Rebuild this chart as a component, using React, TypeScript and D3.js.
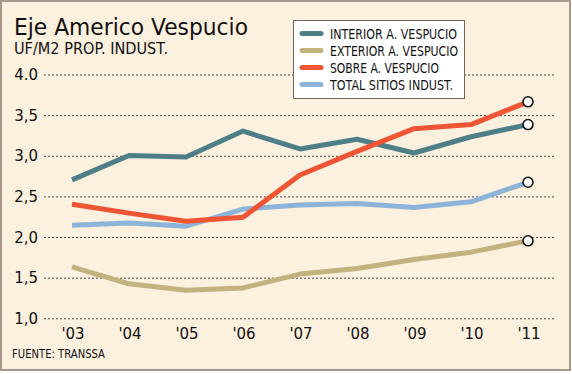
import { scaleLinear, scalePoint, line as d3line } from "d3";

const years = ["'03", "'04", "'05", "'06", "'07", "'08", "'09", "'10", "'11"];
const yTicks = [1.0, 1.5, 2.0, 2.5, 3.0, 3.5, 4.0];
const yTickLabels = ["1,0", "1,5", "2,0", "2,5", "3,0", "3,5", "4.0"];

const interior = [2.71, 3.01, 2.99, 3.31, 3.09, 3.21, 3.04, 3.24, 3.39];
const exterior = [1.64, 1.43, 1.35, 1.38, 1.55, 1.62, 1.73, 1.82, 1.96];
const sobre = [2.41, 2.3, 2.2, 2.25, 2.77, 3.06, 3.34, 3.39, 3.67];
const total = [2.15, 2.18, 2.14, 2.35, 2.4, 2.42, 2.37, 2.44, 2.68];

const seriesNames = [
  "INTERIOR A. VESPUCIO",
  "EXTERIOR A. VESPUCIO",
  "SOBRE A. VESPUCIO",
  "TOTAL SITIOS INDUST.",
];
// rendered widths of the legend labels in the original (condensed face)
const legendWidths = [127, 128, 109, 123];

const W = 572;
const H = 374;
const FONT = "'DejaVu Sans', Verdana, sans-serif";

export default function App() {
  const x = scalePoint<string>().domain(years).range([72, 528]);
  const y = scaleLinear().domain([1, 4]).range([318.8, 75]);

  const series = [
    { name: seriesNames[0], values: interior, color: "#4f7f86" },
    { name: seriesNames[1], values: exterior, color: "#c1b27e" },
    { name: seriesNames[2], values: sobre, color: "#ef5535" },
    { name: seriesNames[3], values: total, color: "#8db3d8" },
  ];

  const lineGen = d3line<number>()
    .x((_, i) => x(years[i]) ?? 0)
    .y((d) => y(d));

  // lighter lines go underneath
  const drawOrder = [1, 3, 0, 2];
  const last = years[years.length - 1];

  return (
    <svg
      width={W}
      height={H}
      style={{ position: "absolute", left: 0, top: 0, display: "block" }}
    >
      <rect x={0} y={0} width={W} height={H} fill="#ffffff" />
      <rect
        x={1}
        y={1}
        width={569}
        height={369}
        fill="#fcf0df"
        stroke="#a8998c"
        strokeWidth={2}
      />

      <text
        x={14}
        y={34.5}
        fontFamily={FONT}
        fontSize={23}
        fill="#111"
        textLength={234}
        lengthAdjust="spacingAndGlyphs"
      >
        Eje Americo Vespucio
      </text>
      <text
        x={14}
        y={54}
        fontFamily={FONT}
        fontSize={15.5}
        fill="#111"
        textLength={154}
        lengthAdjust="spacingAndGlyphs"
      >
        UF/M2 PROP. INDUST.
      </text>

      {/* grid + y labels */}
      {yTicks.map((t, i) => (
        <g key={t}>
          <line
            x1={44}
            x2={555}
            y1={y(t)}
            y2={y(t)}
            stroke="#4a4540"
            strokeWidth={1}
            strokeDasharray="2,2"
          />
          <text
            x={38}
            y={y(t) + 5}
            textAnchor="end"
            fontFamily={FONT}
            fontSize={15}
            fill="#111"
          >
            {yTickLabels[i]}
          </text>
        </g>
      ))}

      {/* x labels */}
      {years.map((yr) => (
        <text
          key={yr}
          x={(x(yr) ?? 0) + 1}
          y={339}
          textAnchor="middle"
          fontFamily={FONT}
          fontSize={15}
          fill="#111"
        >
          {yr}
        </text>
      ))}

      <text
        x={12}
        y={358}
        fontFamily={FONT}
        fontSize={11.5}
        fill="#111"
        textLength={93}
        lengthAdjust="spacingAndGlyphs"
      >
        FUENTE: TRANSSA
      </text>

      {/* lines */}
      {drawOrder.map((k) => (
        <path
          key={series[k].name}
          d={lineGen(series[k].values) ?? ""}
          fill="none"
          stroke={series[k].color}
          strokeWidth={5}
          strokeLinejoin="round"
        />
      ))}

      {/* end markers */}
      {series.map((s) => (
        <circle
          key={s.name}
          cx={x(last) ?? 0}
          cy={y(s.values[s.values.length - 1])}
          r={5}
          fill="#ffffff"
          stroke="#111"
          strokeWidth={1.6}
        />
      ))}

      {/* legend */}
      <rect
        x={293.5}
        y={20.5}
        width={171}
        height={78}
        fill="#ffffff"
        stroke="#6b6560"
        strokeWidth={1}
      />
      {series.map((s, i) => (
        <g key={s.name}>
          <line
            x1={302}
            x2={321}
            y1={33.5 + i * 17}
            y2={33.5 + i * 17}
            stroke={s.color}
            strokeWidth={5}
            strokeLinecap="round"
          />
          <text
            x={330}
            y={38.5 + i * 17}
            fontFamily={FONT}
            fontSize={14.5}
            fill="#111"
            textLength={legendWidths[i]}
            lengthAdjust="spacingAndGlyphs"
          >
            {s.name}
          </text>
        </g>
      ))}
    </svg>
  );
}
